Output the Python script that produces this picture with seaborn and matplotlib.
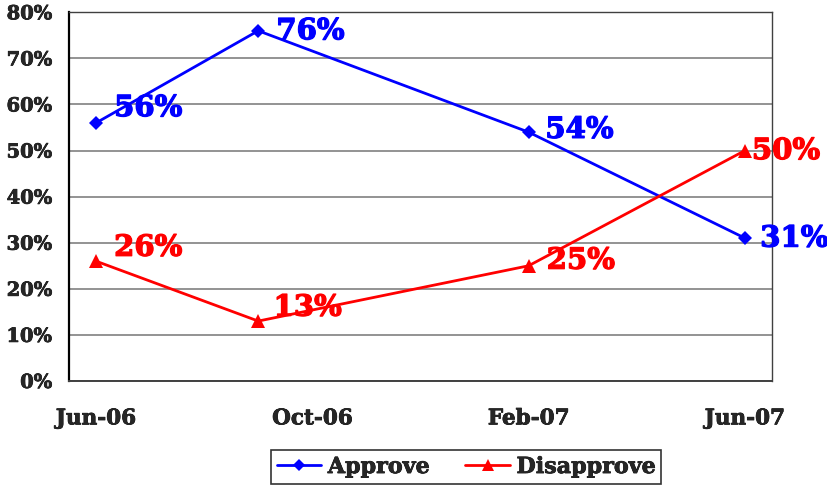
import matplotlib
matplotlib.use("Agg")
import matplotlib.pyplot as plt
import matplotlib.patheffects as pe
import numpy as np
import pandas as pd
import seaborn as sns

# survey dates and results
dates = ["2006-06", "2006-09", "2007-02", "2007-06"]
approve = [0.56, 0.76, 0.54, 0.31]
disapprove = [0.26, 0.13, 0.25, 0.50]
series_names = ["Approve", "Disapprove"]
tick_labels = ["Jun-06", "Oct-06", "Feb-07", "Jun-07"]
tick_dates = ["2006-06", "2006-10", "2007-02", "2007-06"]

# label nudges (points), same order as the values
label_offsets = {
    "Approve": [(13, 11), (13, 0), (12, 2), (11, 0)],
    "Disapprove": [(13, 10), (11, 10), (13, 4), (5, 0)],
}

START = pd.Period("2006-06", freq="M")


def month_pos(d):
    # months since Jun-06, centred in the month (date axis, between ticks)
    return (pd.Period(d, freq="M") - START).n


x_pos = [month_pos(d) + 0.5 for d in dates]
df = pd.DataFrame({
    "x": x_pos * 2,
    "value": approve + disapprove,
    "series": [series_names[0]] * len(dates) + [series_names[1]] * len(dates),
})

sns.set_style("white")
plt.rcParams["font.family"] = ["DejaVu Serif"]
plt.rcParams["font.weight"] = "bold"

colors = {"Approve": "#0000ff", "Disapprove": "#ff0000"}
markers = {"Approve": "D", "Disapprove": "^"}
msizes = {"Approve": 7, "Disapprove": 10}

fig = plt.figure(figsize=(8.28, 4.87), dpi=100)
ax = fig.add_axes([0.0833, 0.2177, 0.849, 0.757])

sns.lineplot(data=df, x="x", y="value", hue="series", style="series",
             palette=colors, markers=markers, dashes=False, linewidth=2,
             markeredgewidth=0, ax=ax, legend=False)
for line, name in zip(ax.get_lines(), series_names):
    line.set_markersize(msizes[name])

for name, vals in zip(series_names, [approve, disapprove]):
    for xv, v, off in zip(x_pos, vals, label_offsets[name]):
        ax.annotate(f"{v * 100:.0f}%", (xv, v), xytext=off,
                    textcoords="offset points", ha="left", va="center",
                    color=colors[name], fontsize=21, fontweight="bold",
                    path_effects=[pe.withStroke(linewidth=0.9,
                                                foreground=colors[name])])

bold = [pe.withStroke(linewidth=0.5, foreground="black")]

ax.set_xlim(0, 13)
ax.set_ylim(0, 0.8)
yt = np.arange(0, 0.81, 0.1)
ax.set_yticks(yt)
ax.set_yticklabels([f"{int(round(t * 100))}%" for t in yt],
                   fontsize=14, fontweight="bold")
ax.yaxis.grid(True, color="#808080", linewidth=1.2)
ax.set_axisbelow(True)

# major ticks at month starts, labels centred in the month
ax.set_xticks([month_pos(d) for d in tick_dates])
ax.set_xticklabels([])
ax.set_xticks([month_pos(d) + 0.5 for d in tick_dates], minor=True)
ax.set_xticklabels(tick_labels, minor=True, fontsize=15.5, fontweight="bold")
ax.tick_params(axis="x", which="major", length=6, color="#808080", width=1)
ax.tick_params(axis="x", which="minor", length=0, pad=19)
ax.tick_params(axis="y", length=6, color="#808080", width=1, pad=6)
for t in ax.get_yticklabels() + ax.get_xticklabels(minor=True):
    t.set_path_effects(bold)
ax.set_xlabel("")
ax.set_ylabel("")

ax.spines["left"].set_color("black")
ax.spines["left"].set_linewidth(1.6)
ax.spines["bottom"].set_color("#404040")
ax.spines["bottom"].set_linewidth(1.4)
for s in ["top", "right"]:
    ax.spines[s].set_color("#404040")
    ax.spines[s].set_linewidth(1.0)

handles = [plt.Line2D([], [], color=colors[n], marker=markers[n],
                      markersize=msizes[n] - 1, linewidth=2, markeredgewidth=0)
           for n in series_names]
leg = fig.legend(handles, series_names, loc="center", ncol=2,
                 bbox_to_anchor=(0.563, 0.041), frameon=True, fancybox=False,
                 edgecolor="black", fontsize=16, handlelength=2.0,
                 handletextpad=0.3, columnspacing=1.6, borderpad=0.25)
leg.get_frame().set_linewidth(1.2)
for t in leg.get_texts():
    t.set_fontweight("bold")
    t.set_path_effects(bold)

fig.savefig("out.png", dpi=100)
